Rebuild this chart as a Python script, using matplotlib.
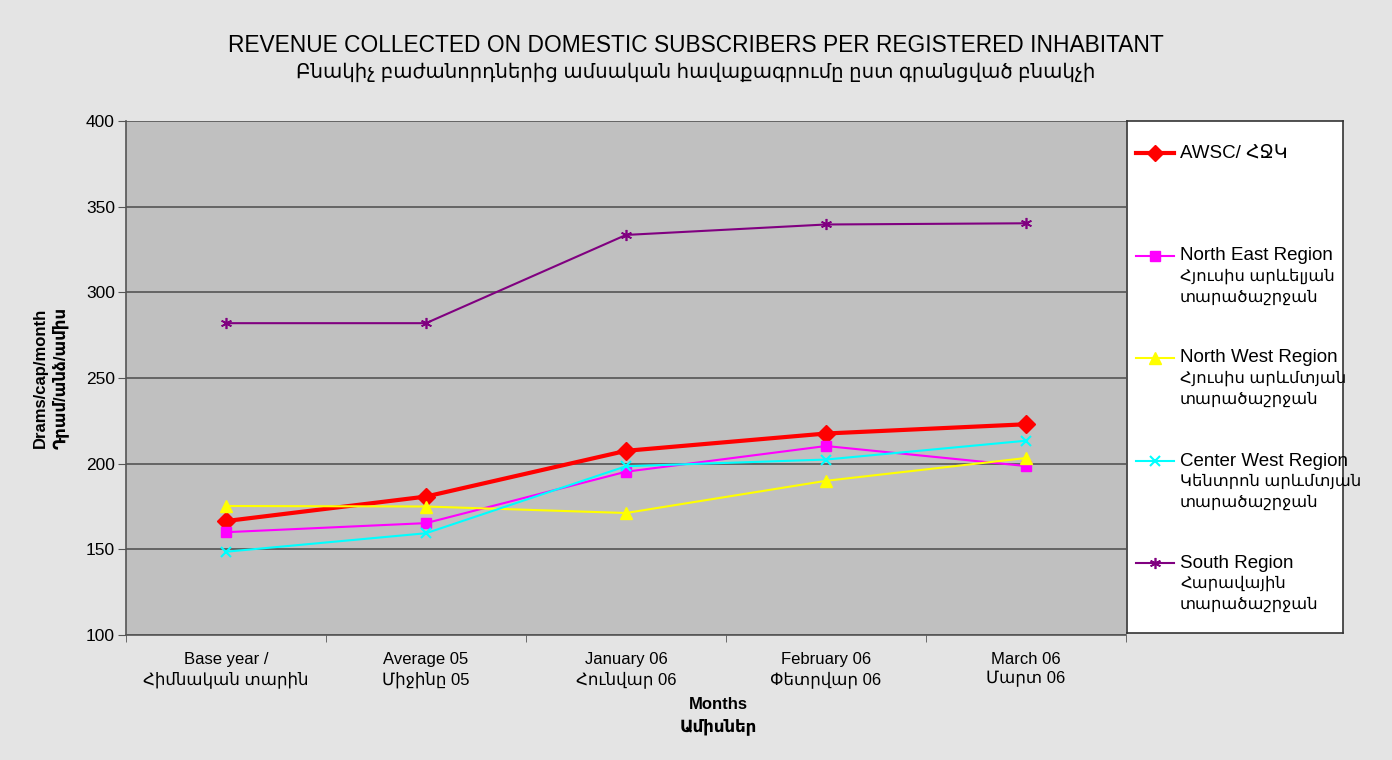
import matplotlib.pyplot as plt
import numpy as np

plt.rcParams['font.family'] = ['Liberation Sans', 'DejaVu Sans']

# chart data
categories = ['Base year /\nՀիմնական տարին', 'Average 05\nՄիջինը 05', 'January 06\nՀունվար 06',
              'February 06\nՓետրվար 06', 'March 06\nՄարտ 06']
awsc = [166.5, 180.8, 207.5, 217.6, 223.0]
north_east = [160.0, 165.3, 195.3, 210.3, 198.6]
north_west = [175.3, 175.0, 171.2, 190.0, 203.3]
center_west = [148.6, 159.4, 198.5, 202.4, 213.4]
south = [282.0, 282.0, 333.5, 339.6, 340.3]

series_labels = [['AWSC/ ՀՋԿ'],
                 ['North East Region', 'Հյուսիս արևելյան', 'տարածաշրջան'],
                 ['North West Region', 'Հյուսիս արևմտյան', 'տարածաշրջան'],
                 ['Center West Region', 'Կենտրոն արևմտյան', 'տարածաշրջան'],
                 ['South Region', 'Հարավային', 'տարածաշրջան']]

styles = [dict(color='#ff0000', lw=3, marker='D', ms=9),
          dict(color='#ff00ff', lw=1.5, marker='s', ms=7),
          dict(color='#ffff00', lw=1.5, marker='^', ms=8),
          dict(color='#00ffff', lw=1.5, marker='x', ms=7, mew=1.5),
          dict(color='#800080', lw=1.5, marker=(6, 2, 0), ms=8, mew=1.2)]

W, H = 1392, 760
fig = plt.figure(figsize=(W / 100, H / 100), dpi=100, facecolor='#e4e4e4')

ax = fig.add_axes([126 / W, 1 - 635 / H, 1000 / W, 514 / H])
ax.set_facecolor('#c0c0c0')
x = np.arange(len(categories))
for vals, st in zip([awsc, north_east, north_west, center_west, south], styles):
    ax.plot(x, vals, zorder=3, **st)

ax.set_xlim(-0.5, len(categories) - 0.5)
ax.set_ylim(100, 400)
ax.set_yticks(np.arange(100, 401, 50))
ax.yaxis.grid(True, color='#555555', lw=1.2)
ax.set_axisbelow(True)
ax.set_xticks(x)
ax.set_xticklabels(categories, fontsize=12, linespacing=1.35)
ax.set_xticks(np.arange(-0.5, len(categories)), minor=True)
ax.tick_params(axis='x', which='major', length=0, pad=12)
ax.tick_params(axis='x', which='minor', length=5, color='#555555', direction='out')
ax.tick_params(axis='y', length=6, color='#555555', labelsize=12.5, pad=2)
for s in ['top', 'right']:
    ax.spines[s].set_visible(False)
for s in ['left', 'bottom']:
    ax.spines[s].set_color('#555555')
    ax.spines[s].set_linewidth(1.2)

fig.text(696 / W, 1 - 45 / H, 'REVENUE COLLECTED ON DOMESTIC SUBSCRIBERS PER REGISTERED INHABITANT',
         ha='center', va='center', fontsize=16.4)
fig.text(696 / W, 1 - 72 / H, 'Բնակիչ բաժանորդներից ամսական հավաքագրումը ըստ գրանցված բնակչի',
         ha='center', va='center', fontsize=14.2)
fig.text(718 / W, 1 - 716 / H, 'Months\nԱմիսներ', ha='center', va='center',
         fontsize=12, fontweight='bold', linespacing=1.4)
fig.text(51 / W, 1 - 378 / H, 'Drams/cap/month\nԴրամ/անձ/ամիս', ha='center', va='center',
         rotation=90, fontsize=12, fontweight='bold', linespacing=1.3)

# legend box
lg = fig.add_axes([1127 / W, 1 - 633 / H, 216 / W, 512 / H])
lg.set_xlim(0, 216)
lg.set_ylim(512, 0)
lg.set_xticks([])
lg.set_yticks([])
lg.set_facecolor('white')
for s in lg.spines.values():
    s.set_color('#333333')
    s.set_linewidth(1.2)
entry_y = [32, 135, 237, 340, 442]
for ey, lines, st in zip(entry_y, series_labels, styles):
    lg.plot([9, 47], [ey, ey], color=st['color'], lw=st['lw'])
    mk = {k: v for k, v in st.items() if k != 'lw'}
    if mk['marker'] == 'D':
        mk['ms'] = 8
    lg.plot([28], [ey], linestyle='none', **mk)
    for i, line in enumerate(lines):
        size = 13.5 if i == 0 else 11.8
        lg.text(53, ey + 20.5 * i, line, ha='left', va='center', fontsize=size)

fig.savefig('out.png', dpi=100, facecolor=fig.get_facecolor())
